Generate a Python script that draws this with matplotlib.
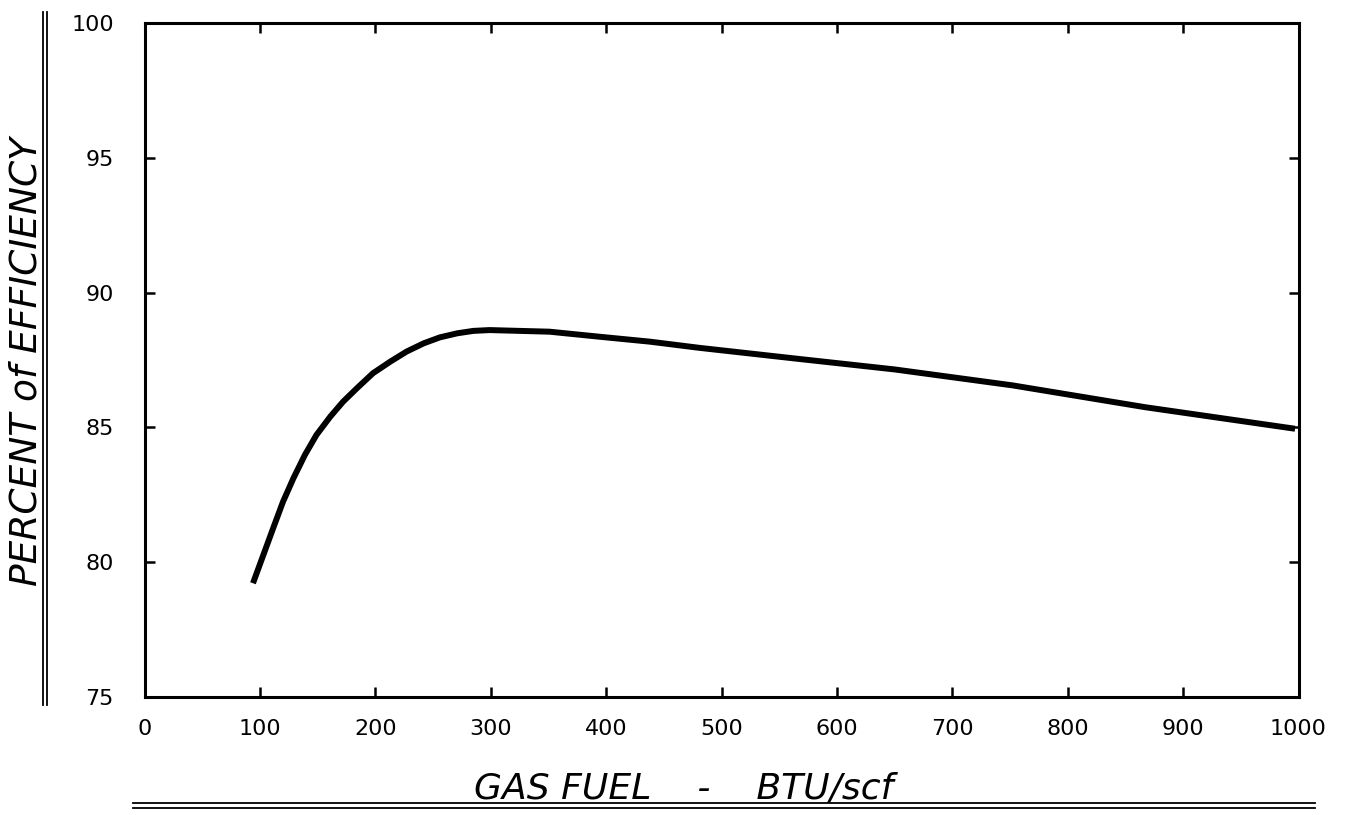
import matplotlib
matplotlib.use("Agg")
import matplotlib.pyplot as plt
from matplotlib.lines import Line2D

# Data
gas_fuel_btu = [94, 103, 112, 120, 129, 139, 149, 161, 172, 184, 198, 213,
                227, 242, 256, 271, 285, 299, 351, 395, 438, 481, 567, 650,
                752, 867, 997]
efficiency_pct = [79.22, 80.27, 81.32, 82.24, 83.11, 83.98, 84.72, 85.40,
                  85.95, 86.45, 87.01, 87.44, 87.81, 88.12, 88.34, 88.49,
                  88.58, 88.61, 88.55, 88.36, 88.18, 87.95, 87.54, 87.15,
                  86.56, 85.75, 84.95]
x_ticks = [0, 100, 200, 300, 400, 500, 600, 700, 800, 900, 1000]
y_ticks = [75, 80, 85, 90, 95, 100]
x_label = "GAS FUEL    -    BTU/scf"
y_label = "PERCENT of EFFICIENCY"

W, H = 1355, 815
fig = plt.figure(figsize=(W / 100, H / 100), dpi=100)
ax = fig.add_axes([144.5 / W, 1 - 697 / H, (1298.5 - 144.5) / W, (697 - 23) / H])

ax.plot(gas_fuel_btu, efficiency_pct, color="black", lw=4.3,
        solid_capstyle="butt", solid_joinstyle="round")

ax.set_xlim(0, 1000)
ax.set_ylim(75, 100)
ax.set_xticks(x_ticks)
ax.set_yticks(y_ticks)
ax.set_xticklabels([str(v) for v in x_ticks])
ax.set_yticklabels([str(v) for v in y_ticks])
for s in ax.spines.values():
    s.set_linewidth(2.2)
ax.tick_params(axis="both", direction="in", length=7, width=1.8,
               top=True, right=True, labelsize=16)
ax.tick_params(axis="x", pad=16)
ax.tick_params(axis="y", pad=22)

# Axis titles with double rules
fig.text(27 / W, 1 - 362 / H, y_label, rotation=90, ha="center", va="center",
         fontsize=27, style="italic", family="DejaVu Sans")
fig.text(684 / W, 1 - 789 / H, x_label, ha="center", va="center",
         fontsize=26, style="italic", family="DejaVu Sans")

for yy in (803, 808):
    fig.add_artist(Line2D([133 / W, 1315 / W], [1 - yy / H, 1 - yy / H],
                          transform=fig.transFigure, color="black", lw=1.3))
for xx in (43, 47):
    fig.add_artist(Line2D([xx / W, xx / W], [1 - 12 / H, 1 - 705 / H],
                          transform=fig.transFigure, color="black", lw=1.3))

fig.savefig("out.png", dpi=100, facecolor="white")
